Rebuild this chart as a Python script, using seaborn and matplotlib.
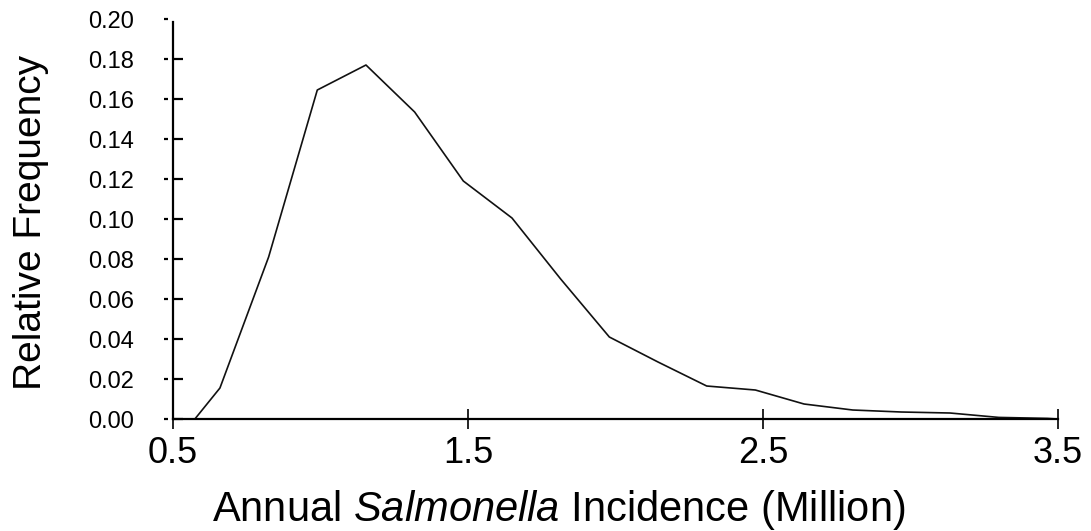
import numpy as np
import pandas as pd
import matplotlib
matplotlib.use('Agg')
import matplotlib.pyplot as plt
import matplotlib.transforms as mtransforms
import seaborn as sns

# values
incidence = [0.574, 0.659, 0.824, 0.989, 1.154, 1.319, 1.484, 1.649, 1.814, 1.979,
             2.144, 2.309, 2.474, 2.639, 2.804, 2.969, 3.134, 3.299, 3.464, 3.5]
rel_freq = [0.0, 0.0155, 0.081, 0.1645, 0.177, 0.1535, 0.119, 0.1005, 0.070, 0.041,
            0.0285, 0.0165, 0.0145, 0.0075, 0.0045, 0.0035, 0.003, 0.0008, 0.0003, 0.0]

x_ticks = [0.5, 1.5, 2.5, 3.5]
y_ticks = [0.00, 0.02, 0.04, 0.06, 0.08, 0.10, 0.12, 0.14, 0.16, 0.18, 0.20]

sns.set_style('ticks')
plt.rcParams['font.family'] = ['Liberation Sans', 'DejaVu Sans']
plt.rcParams['text.color'] = 'black'
plt.rcParams['axes.labelcolor'] = 'black'
plt.rcParams['mathtext.fontset'] = 'custom'
plt.rcParams['mathtext.rm'] = 'Liberation Sans'
plt.rcParams['mathtext.it'] = 'Liberation Sans:italic'

df = pd.DataFrame({'x': incidence, 'y': rel_freq})

fig = plt.figure(figsize=(10.91, 5.31), dpi=100)
ax = fig.add_axes([0.1586, 0.2109, 0.8112, 0.7533])

sns.lineplot(data=df, x='x', y='y', ax=ax, color='#111111', linewidth=1.2)

ax.set_xlim(0.5, 3.5)
ax.set_ylim(0.0, 0.2)
ax.set_xticks(x_ticks)
ax.set_xticklabels([f'{v:.1f}' for v in x_ticks])
ax.set_yticks(y_ticks)
ax.set_yticklabels([f'{v:.2f}' for v in y_ticks])

for side in ['top', 'right']:
    ax.spines[side].set_visible(False)
for side in ['left', 'bottom']:
    ax.spines[side].set_linewidth(1.6)
    ax.spines[side].set_color('black')
ax.spines['left'].set_bounds(0.0, 0.1985)

ax.tick_params(axis='x', direction='inout', length=14, width=1.2, pad=5,
               labelsize=26, colors='black')
ax.tick_params(axis='y', direction='in', length=7.5, width=1.6, pad=28,
               labelsize=17, colors='black')
ax.yaxis.get_major_ticks()[-1].tick1line.set_visible(False)

# small detached dashes left of the y axis
trans = mtransforms.blended_transform_factory(ax.transAxes, ax.transData)
ax.plot(np.full(len(y_ticks), -0.0085), y_ticks, transform=trans, ls='none',
        marker='_', markersize=3, markeredgewidth=1.6, color='black', clip_on=False)

ax.set_xlabel(r'Annual $\it{Salmonella}$ Incidence (Million)', fontsize=30)
ax.xaxis.set_label_coords(0.436, -0.172)
ax.set_ylabel('Relative Frequency', fontsize=28)
ax.yaxis.set_label_coords(-0.140, 0.4925)

ax.grid(False)
fig.savefig('out.png', dpi=100, facecolor='white')
